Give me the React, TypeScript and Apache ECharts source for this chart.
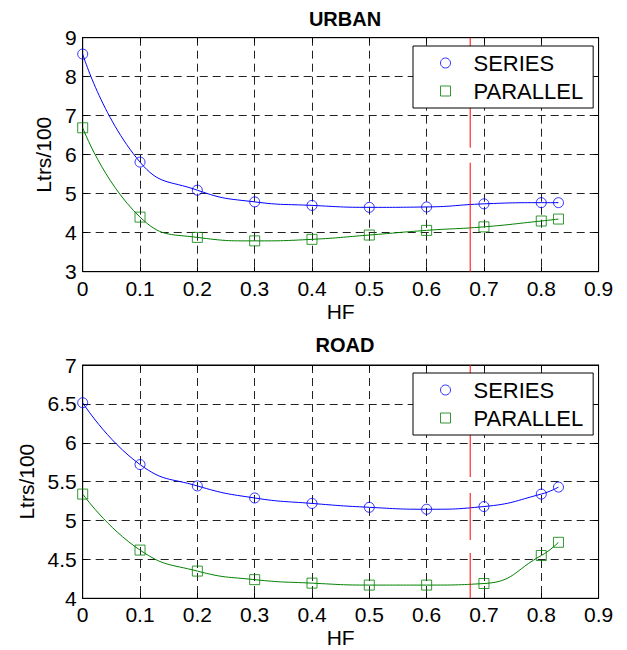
import React, { useEffect, useRef } from "react";
import * as echarts from "echarts";

const hf = [0, 0.1, 0.2, 0.3, 0.4, 0.5, 0.6, 0.7, 0.8, 0.83];
const urbanSeries = [8.58, 5.81, 5.09, 4.79, 4.7, 4.65, 4.66, 4.74, 4.77, 4.77];
const urbanParallel = [6.69, 4.4, 3.88, 3.79, 3.83, 3.94, 4.06, 4.15, 4.3, 4.35];
const roadSeries = [6.515, 5.72, 5.445, 5.29, 5.22, 5.17, 5.145, 5.18, 5.34, 5.43];
const roadParallel = [5.34, 4.62, 4.35, 4.24, 4.195, 4.17, 4.17, 4.19, 4.55, 4.72];
const markerHF = 0.676;
const titles = ["URBAN", "ROAD"];
const legendNames = ["SERIES", "PARALLEL"];
const xTicks = { min: 0, max: 0.9, interval: 0.1 };
const yUrban = { min: 3, max: 9, interval: 1 };
const yRoad = { min: 4, max: 7, interval: 0.5 };

const FONT = "Liberation Sans";
const BLUE = "#0000ff";
const GREEN = "#008000";

const pairs = (ys: number[]) => hf.map((x, i) => [x, ys[i]]);
const fmt = (v: number) => String(Math.round(v * 10) / 10);

function xAx(gridIndex: number, position: string, main: boolean) {
  return {
    type: "value",
    gridIndex,
    position,
    ...xTicks,
    name: main ? "HF" : "",
    nameLocation: "middle",
    nameGap: 29,
    nameTextStyle: { fontFamily: FONT, fontSize: 21, color: "#000" },
    axisLine: { show: true, onZero: false, lineStyle: { color: "#000", width: 1 } },
    axisTick: { show: true, inside: true, length: 5, lineStyle: { color: "#000" } },
    axisLabel: {
      show: main,
      formatter: fmt,
      fontFamily: FONT,
      fontSize: 21,
      color: "#000",
      margin: 6,
    },
    splitLine: { show: main, lineStyle: { color: "#222", width: 1, type: [8, 5] } },
  };
}

function yAx(gridIndex: number, position: string, main: boolean, range: any) {
  return {
    type: "value",
    gridIndex,
    position,
    ...range,
    name: main ? "Ltrs/100" : "",
    nameLocation: "middle",
    nameGap: 28,
    nameTextStyle: { fontFamily: FONT, fontSize: 21, color: "#000" },
    axisLine: { show: true, onZero: false, lineStyle: { color: "#000", width: 1 } },
    axisTick: { show: true, inside: true, length: 5, lineStyle: { color: "#000" } },
    axisLabel: {
      show: main,
      formatter: fmt,
      fontFamily: FONT,
      fontSize: 21,
      color: "#000",
      margin: 6,
    },
    splitLine: { show: main, lineStyle: { color: "#222", width: 1, type: [8, 5] } },
  };
}

function curve(name: string, idx: number, ys: number[], color: string) {
  return {
    type: "line",
    name: name + "-curve",
    xAxisIndex: idx,
    yAxisIndex: idx,
    data: pairs(ys),
    smooth: 0.5,
    symbol: "none",
    lineStyle: { color, width: 1 },
    itemStyle: { color },
    silent: true,
    z: 3,
  };
}

function markers(name: string, idx: number, ys: number[], color: string, symbol: string) {
  return {
    type: "scatter",
    name,
    xAxisIndex: idx,
    yAxisIndex: idx,
    data: pairs(ys),
    symbol,
    symbolSize: 10,
    itemStyle: { color: "rgba(0,0,0,0)", borderColor: color, borderWidth: 1 },
    silent: true,
    z: 4,
  };
}

function redLine(idx: number, range: any, dash: number[]) {
  return {
    type: "line",
    name: "ref-" + idx,
    xAxisIndex: idx,
    yAxisIndex: idx,
    data: [
      [markerHF, range.max],
      [markerHF, range.min],
    ],
    symbol: "none",
    lineStyle: { color: "#ff0000", width: 1, type: dash },
    silent: true,
    z: 5,
  };
}

function legend(top: number) {
  return {
    left: 413,
    top,
    orient: "vertical",
    backgroundColor: "#fff",
    borderColor: "#000",
    borderWidth: 1,
    borderRadius: 0,
    padding: [3, 10, 3, 27],
    itemGap: 0,
    itemWidth: 10,
    itemHeight: 10,
    selectedMode: false,
    textStyle: {
      fontFamily: FONT,
      fontSize: 22,
      color: "#000",
      lineHeight: 28,
      padding: [0, 0, 0, 18],
    },
    data: [
      {
        name: legendNames[0],
        icon: "circle",
        itemStyle: { color: "rgba(0,0,0,0)", borderColor: BLUE, borderWidth: 1 },
      },
      {
        name: legendNames[1],
        icon: "rect",
        itemStyle: { color: "rgba(0,0,0,0)", borderColor: GREEN, borderWidth: 1 },
      },
    ],
    z: 10,
  };
}

export default function App() {
  const ref = useRef<HTMLDivElement>(null);
  useEffect(() => {
    if (!ref.current) return;
    const chart = echarts.init(ref.current, null, { renderer: "svg" });
    const gridBase = {
      left: 82.7,
      width: 515.9,
      show: true,
      borderColor: "#000",
      borderWidth: 1,
      backgroundColor: "#fff",
    };
    chart.setOption({
      animation: false,
      backgroundColor: "#fff",
      title: [
        {
          text: titles[0],
          left: 340,
          top: 4,
          textAlign: "center",
          textStyle: { fontFamily: FONT, fontSize: 20, fontWeight: "bold", color: "#000" },
        },
        {
          text: titles[1],
          left: 340,
          top: 330,
          textAlign: "center",
          textStyle: { fontFamily: FONT, fontSize: 20, fontWeight: "bold", color: "#000" },
        },
      ],
      grid: [
        { ...gridBase, top: 37.7, height: 234 },
        { ...gridBase, top: 365, height: 233.3 },
      ],
      xAxis: [
        xAx(0, "bottom", true),
        xAx(1, "bottom", true),
        xAx(0, "top", false),
        xAx(1, "top", false),
      ],
      yAxis: [
        yAx(0, "left", true, yUrban),
        yAx(1, "left", true, yRoad),
        yAx(0, "right", false, yUrban),
        yAx(1, "right", false, yRoad),
      ],
      legend: [legend(46), legend(373)],
      series: [
        curve(legendNames[0], 0, urbanSeries, BLUE),
        curve(legendNames[1], 0, urbanParallel, GREEN),
        markers(legendNames[0], 0, urbanSeries, BLUE, "circle"),
        markers(legendNames[1], 0, urbanParallel, GREEN, "rect"),
        redLine(0, yUrban, [110, 15, 300, 0]),
        curve(legendNames[0], 1, roadSeries, BLUE),
        curve(legendNames[1], 1, roadParallel, GREEN),
        markers(legendNames[0], 1, roadSeries, BLUE, "circle"),
        markers(legendNames[1], 1, roadParallel, GREEN, "rect"),
        redLine(1, yRoad, [112, 16, 47, 13, 300, 0]),
      ],
    });
    return () => chart.dispose();
  }, []);
  return (
    <div
      ref={ref}
      style={{ position: "fixed", left: 0, top: 0, width: 627, height: 650 }}
    />
  );
}
